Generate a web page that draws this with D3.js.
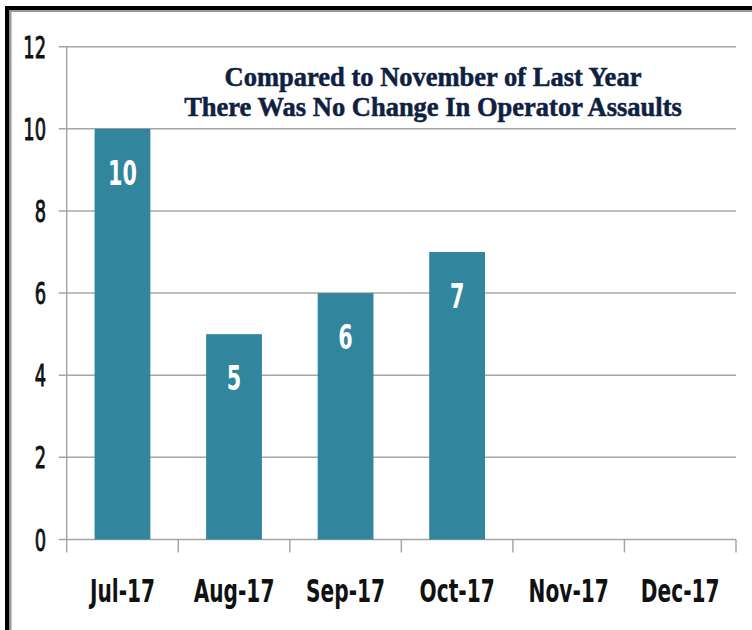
<!DOCTYPE html>
<html>
<head>
  <meta charset="utf-8">
  <title>Operator Assaults</title>
  <script src="https://d3js.org/d3.v7.min.js"></script>
  <style>
    body { margin: 0; background: #fff; }
    svg { display: block; }
    .ylab { font-family: "Liberation Sans Narrow", "DejaVu Sans Condensed", sans-serif; font-size: 31px; fill: #111; stroke: #111; stroke-width: 0.9px; }
    .xlab { font-family: "Liberation Sans Narrow", "DejaVu Sans Condensed", sans-serif; font-size: 32px; font-weight: bold; fill: #111; }
    .vlab { font-family: "Liberation Sans Narrow", "DejaVu Sans Condensed", sans-serif; font-size: 33px; font-weight: bold; fill: #fff; }
    .title { font-family: "Liberation Serif", "DejaVu Serif", serif; font-size: 26.5px; font-weight: bold; fill: #0f2141; stroke: #0f2141; stroke-width: 0.5px; }
  </style>
</head>
<body>
  <script>
    // data
    var months = ["Jul-17", "Aug-17", "Sep-17", "Oct-17", "Nov-17", "Dec-17"];
    var assaults = [10, 5, 6, 7, null, null];
    var yTicks = [0, 2, 4, 6, 8, 10, 12];
    var titleLines = ["Compared to November of Last Year", "There Was No Change In Operator Assaults"];

    var width = 752, height = 630;
    var plotLeft = 66.7, plotRight = 736, plotTop = 46.7, plotBottom = 539.5;
    var barColor = "#31859c";
    var gridColor = "#a6a6a6";
    var squeeze = 0.7; // labels in the picture are tall and narrow
    var ySqueeze = 0.64;

    var data = months.map(function(m, i) { return { month: m, value: assaults[i] }; });

    var svg = d3.select("body").append("svg")
      .attr("width", width)
      .attr("height", height);

    // frame (black border with a grey edge, cut off at right and bottom)
    svg.append("rect").attr("x", 5).attr("y", 6).attr("width", width).attr("height", 4).attr("fill", "#000");
    svg.append("rect").attr("x", 5).attr("y", 6).attr("width", 4.5).attr("height", height).attr("fill", "#000");
    svg.append("rect").attr("x", 9.5).attr("y", 10).attr("width", width).attr("height", 2).attr("fill", "#9a9a9a");
    svg.append("rect").attr("x", 9.5).attr("y", 10).attr("width", 2).attr("height", height).attr("fill", "#9a9a9a");

    var y = d3.scaleLinear().domain([0, 12]).range([plotBottom, plotTop]);
    var x = d3.scaleBand().domain(months).range([plotLeft, plotRight]).paddingInner(0.5).paddingOuter(0.25);
    var xCat = d3.scaleBand().domain(months).range([plotLeft, plotRight]);

    // gridlines with left tick marks
    svg.selectAll("line.grid")
      .data(yTicks)
      .enter()
      .append("line")
      .attr("class", "grid")
      .attr("x1", plotLeft - 8)
      .attr("x2", plotRight)
      .attr("y1", function(d) { return y(d); })
      .attr("y2", function(d) { return y(d); })
      .attr("stroke", gridColor)
      .attr("stroke-width", 1.5);

    // y axis line
    svg.append("line")
      .attr("x1", plotLeft).attr("x2", plotLeft)
      .attr("y1", plotTop).attr("y2", plotBottom)
      .attr("stroke", gridColor)
      .attr("stroke-width", 1.5);

    svg.selectAll("text.ylab")
      .data(yTicks)
      .enter()
      .append("text")
      .attr("class", "ylab")
      .attr("text-anchor", "end")
      .attr("transform", function(d) {
        return "translate(46," + (y(d) + 11) + ") scale(" + ySqueeze + ",1)";
      })
      .text(function(d) { return d; });

    // x category tick marks
    var edges = months.map(function(m) { return xCat(m); }).concat([plotRight]);
    svg.selectAll("line.xtick")
      .data(edges)
      .enter()
      .append("line")
      .attr("class", "xtick")
      .attr("x1", function(d) { return d; })
      .attr("x2", function(d) { return d; })
      .attr("y1", plotBottom)
      .attr("y2", plotBottom + 13)
      .attr("stroke", gridColor)
      .attr("stroke-width", 1.5);

    // bars
    svg.selectAll("rect.bar")
      .data(data.filter(function(d) { return d.value != null; }))
      .enter()
      .append("rect")
      .attr("class", "bar")
      .attr("x", function(d) { return x(d.month); })
      .attr("y", function(d) { return y(d.value); })
      .attr("width", x.bandwidth())
      .attr("height", function(d) { return plotBottom - y(d.value); })
      .attr("fill", barColor);

    // value labels inside the bars
    svg.selectAll("text.vlab")
      .data(data.filter(function(d) { return d.value != null; }))
      .enter()
      .append("text")
      .attr("class", "vlab")
      .attr("text-anchor", "middle")
      .attr("transform", function(d) {
        return "translate(" + (x(d.month) + x.bandwidth() / 2) + "," + (y(d.value) + 56) + ") scale(" + squeeze + ",1)";
      })
      .text(function(d) { return d.value; });

    // month labels
    svg.selectAll("text.xlab")
      .data(months)
      .enter()
      .append("text")
      .attr("class", "xlab")
      .attr("text-anchor", "middle")
      .attr("transform", function(d) {
        return "translate(" + (xCat(d) + xCat.bandwidth() / 2) + ",602) scale(" + squeeze + ",1)";
      })
      .text(function(d) { return d; });

    // title
    svg.selectAll("text.title")
      .data(titleLines)
      .enter()
      .append("text")
      .attr("class", "title")
      .attr("x", 433)
      .attr("y", function(d, i) { return 86 + i * 30; })
      .attr("text-anchor", "middle")
      .text(function(d) { return d; });
  </script>
</body>
</html>
